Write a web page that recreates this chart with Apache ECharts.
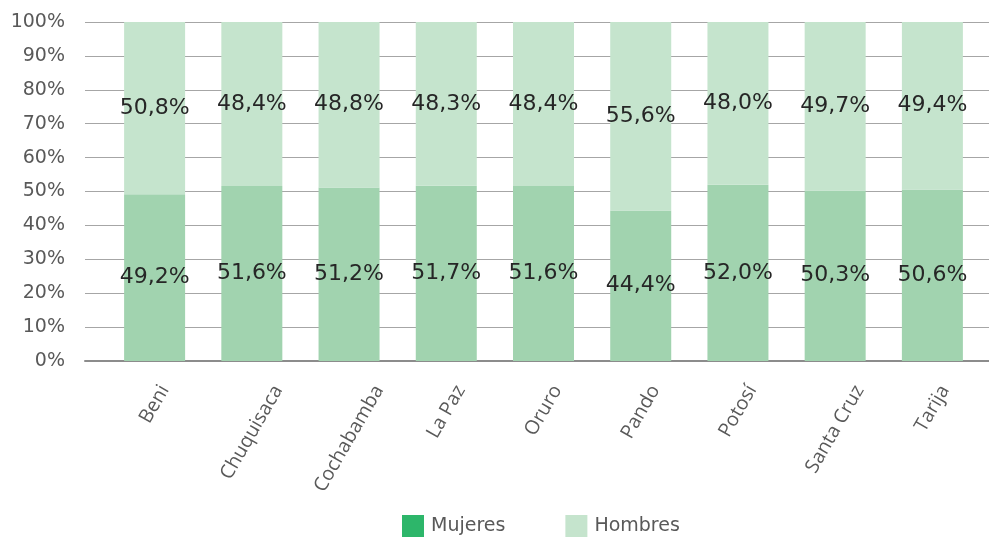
<!DOCTYPE html>
<html>
<head>
<meta charset="utf-8">
<script src="https://cdn.jsdelivr.net/npm/echarts@6/dist/echarts.min.js"></script>
<style>
  html, body { margin: 0; padding: 0; background: #ffffff; }
  #chart { width: 989px; height: 538px; }
</style>
</head>
<body>
<div id="chart"></div>
<script>
// Departamentos y porcentajes por sexo
var departamentos = ['Beni', 'Chuquisaca', 'Cochabamba', 'La Paz', 'Oruro', 'Pando', 'Potosí', 'Santa Cruz', 'Tarija'];
var mujeres = [49.2, 51.6, 51.2, 51.7, 51.6, 44.4, 52.0, 50.3, 50.6];
var hombres = [50.8, 48.4, 48.8, 48.3, 48.4, 55.6, 48.0, 49.7, 49.4];
var yTicks = [0, 100, 10]; // min, max, intervalo

(function () {
    'use strict';

    var FONT = 'DejaVu Sans';
    var GRIS = '#595959';
    var CAT_FONT = '19.5px "Open Sans"';
    var ROT = 60 * Math.PI / 180;

    function pct(v) {
        return v.toFixed(1).replace('.', ',') + '%';
    }

    // medir texto para centrar la etiqueta girada como lo hace Excel
    var ctx = document.createElement('canvas').getContext('2d');
    ctx.font = CAT_FONT;
    function anchoTexto(t) { return ctx.measureText(t).width; }

    var chart = echarts.init(document.getElementById('chart'));

    var etiqueta = {
        show: true,
        position: 'inside',
        fontFamily: FONT,
        fontSize: 22,
        color: '#262626',
        formatter: function (p) { return pct(p.value); }
    };

    chart.setOption({
        animation: false,
        textStyle: { fontFamily: FONT },
        legend: {
            left: 397,
            top: 510,
            itemWidth: 22,
            itemHeight: 22,
            itemGap: 60,
            icon: 'rect',
            textStyle: { fontFamily: FONT, fontSize: 19, color: GRIS, padding: [0, 0, 0, 2] },
            data: [
                { name: 'Mujeres', itemStyle: { color: '#2db66a' } },
                { name: 'Hombres', itemStyle: { color: '#c5e4cd' } }
            ]
        },
        // grid 0: ejes y lineas de referencia; grid 1: barras
        grid: [
            { left: 85, right: 0, top: 22, bottom: 177 },
            { left: 106, right: 8, top: 22, bottom: 177 }
        ],
        xAxis: [
            {
                type: 'category',
                gridIndex: 0,
                data: departamentos,
                axisLine: { show: true, lineStyle: { color: '#8c8c8c', width: 2 } },
                axisTick: { show: false },
                axisLabel: { show: false }
            },
            {
                type: 'category',
                gridIndex: 1,
                data: departamentos,
                axisLine: { show: false },
                axisTick: { show: false },
                axisLabel: { show: false }
            }
        ],
        yAxis: [
            {
                type: 'value',
                gridIndex: 0,
                min: yTicks[0],
                max: yTicks[1],
                interval: yTicks[2],
                axisLine: { show: false },
                axisTick: { show: false },
                axisLabel: {
                    margin: 20,
                    fontFamily: FONT,
                    fontSize: 19,
                    color: GRIS,
                    formatter: '{value}%'
                },
                splitLine: { lineStyle: { color: '#a6a6a6', width: 1 } }
            },
            {
                type: 'value',
                gridIndex: 1,
                min: yTicks[0],
                max: yTicks[1],
                show: false
            }
        ],
        series: [
            {
                name: 'Mujeres',
                type: 'bar',
                stack: 'total',
                xAxisIndex: 1,
                yAxisIndex: 1,
                barWidth: 61,
                itemStyle: { color: '#a1d3af' },
                label: etiqueta,
                data: mujeres
            },
            {
                name: 'Hombres',
                type: 'bar',
                stack: 'total',
                xAxisIndex: 1,
                yAxisIndex: 1,
                barWidth: 61,
                itemStyle: { color: '#c5e4cd' },
                label: etiqueta,
                data: hombres
            },
            {
                // etiquetas de categoria giradas, centradas bajo cada barra
                name: 'etiquetas',
                type: 'custom',
                xAxisIndex: 1,
                yAxisIndex: 1,
                silent: true,
                clip: false,
                data: departamentos.map(function (d, i) { return [i, 0]; }),
                renderItem: function (params, api) {
                    var p = api.coord([api.value(0), 0]);
                    var txt = departamentos[params.dataIndex];
                    var L = anchoTexto(txt);
                    var h = 19;
                    var H = L * Math.sin(ROT) + h * Math.cos(ROT);
                    return {
                        type: 'text',
                        x: p[0],
                        y: p[1] + 21 + H / 2,
                        rotation: ROT,
                        style: {
                            text: txt,
                            font: CAT_FONT,
                            fill: GRIS,
                            align: 'center',
                            verticalAlign: 'middle'
                        }
                    };
                }
            }
        ]
    });

    window.addEventListener('resize', function () { chart.resize(); });
})();
</script>
</body>
</html>
